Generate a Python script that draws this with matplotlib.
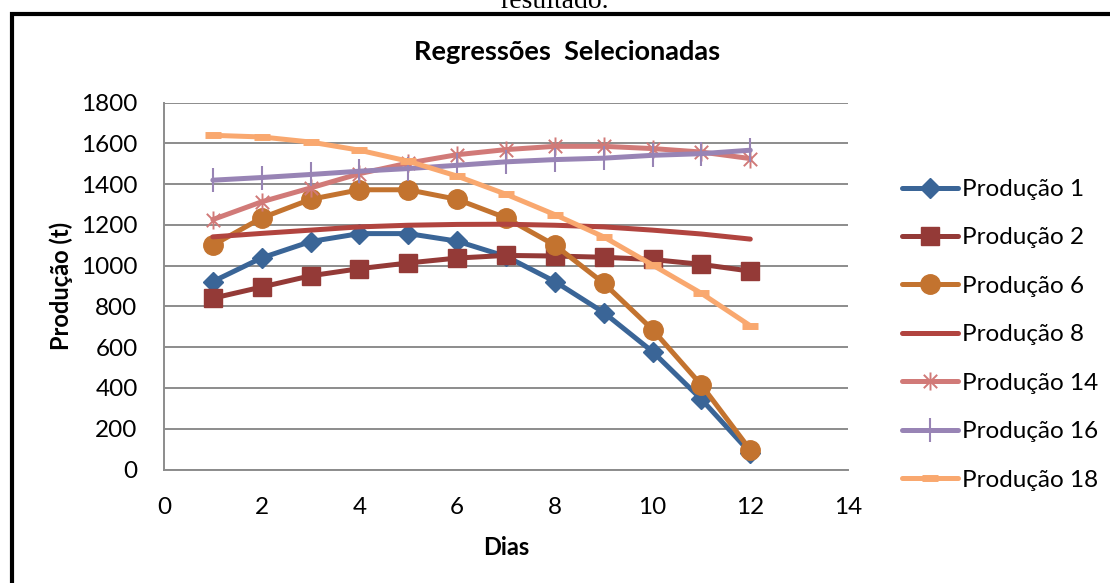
import matplotlib
matplotlib.use("Agg")
import matplotlib.pyplot as plt
from matplotlib.path import Path
from matplotlib.patches import Rectangle

plt.rcParams['font.family'] = ['Lato', 'DejaVu Sans']

dias = [1, 2, 3, 4, 5, 6, 7, 8, 9, 10, 11, 12]

producao_1 = [922, 1038, 1118, 1157, 1157, 1120, 1045, 922, 770, 578, 344, 82]
producao_2 = [840, 895, 950, 985, 1013, 1037, 1050, 1047, 1041, 1030, 1006, 973]
producao_6 = [1100, 1234, 1325, 1372, 1372, 1325, 1234, 1100, 914, 686, 414, 96]
producao_8 = [1141, 1158, 1174, 1190, 1198, 1202, 1203, 1198, 1190, 1174, 1155, 1130]
producao_14 = [1226, 1313, 1381, 1451, 1503, 1544, 1569, 1585, 1585, 1574, 1557, 1525]
producao_16 = [1419, 1432, 1447, 1463, 1476, 1492, 1509, 1520, 1527, 1541, 1549, 1566]
producao_18 = [1639, 1631, 1606, 1566, 1512, 1439, 1350, 1250, 1141, 1003, 864, 705]

labels = ['Produção 1', 'Produção 2', 'Produção 6', 'Produção 8',
          'Produção 14', 'Produção 16', 'Produção 18']

x_ticks = [0, 2, 4, 6, 8, 10, 12, 14]
y_ticks = [0, 200, 400, 600, 800, 1000, 1200, 1400, 1600, 1800]

# asterisk marker: an X crossed by a vertical stroke
asterisk = Path([(-1, -1), (1, 1), (-1, 1), (1, -1), (0, -1.35), (0, 1.35)],
                [Path.MOVETO, Path.LINETO, Path.MOVETO, Path.LINETO,
                 Path.MOVETO, Path.LINETO])

fig = plt.figure(figsize=(11.10, 5.83), dpi=100)
ax = fig.add_axes([164 / 1110, 1 - 469.5 / 583, (848 - 164) / 1110, (469.5 - 102.5) / 583])

lw = 3.6
series = [
    (producao_1, '#3A6597', dict(marker='D', markersize=10, markeredgewidth=1)),
    (producao_2, '#943A37', dict(marker='s', markersize=13, markeredgewidth=1)),
    (producao_6, '#C3732F', dict(marker='o', markersize=14, markeredgewidth=1)),
    (producao_8, '#B1443F', dict(marker=None)),
    (producao_14, '#D17A78', dict(marker=asterisk, markersize=13, markeredgewidth=1.4,
                                  markerfacecolor='none')),
    (producao_16, '#9884B5', dict(marker='|', markersize=17, markeredgewidth=1.5)),
    (producao_18, '#F9A86F', dict(marker='_', markersize=11, markeredgewidth=5)),
]

for (vals, color, mk), lab in zip(series, labels):
    ax.plot(dias, vals, color=color, linewidth=lw, label=lab,
            markerfacecolor=mk.pop('markerfacecolor', color),
            markeredgecolor=color, solid_capstyle='round', zorder=3, **mk)

ax.set_xlim(0, 14)
ax.set_ylim(0, 1800)
ax.set_xticks(x_ticks)
ax.set_yticks(y_ticks)
ax.tick_params(axis='both', length=0, labelsize=17.5)
ax.tick_params(axis='x', pad=20)
ax.tick_params(axis='y', pad=19)
ax.grid(axis='y', color='#8C8C8C', linewidth=1.4)
ax.set_axisbelow(True)
for side in ('top', 'right'):
    ax.spines[side].set_visible(False)
for side in ('left', 'bottom'):
    ax.spines[side].set_color('#8C8C8C')
    ax.spines[side].set_linewidth(1.4)

ax.set_xlabel('Dias', fontsize=17, fontweight='bold', labelpad=13)
ax.set_ylabel('Produção (t)', fontsize=17, fontweight='bold', labelpad=6)

fig.text(567 / 1110, 1 - 52 / 583, 'Regressões  Selecionadas', ha='center', va='center',
         fontsize=19.5, fontweight='bold')

leg = ax.legend(loc='upper left', bbox_to_anchor=(902 / 1110, 1 - 179 / 583),
                bbox_transform=fig.transFigure, frameon=False, fontsize=17.5,
                handlelength=2.3, handletextpad=0.15, labelspacing=1.13,
                borderaxespad=0, borderpad=0)

# outer frame of the chart
fig.patches.append(Rectangle((11.5 / 1110, -0.05), 1.2, 1 - 13.5 / 583 + 0.05,
                             transform=fig.transFigure, fill=False,
                             edgecolor='black', linewidth=3, zorder=0))

fig.text(555 / 1110, 1 - 8 / 583, 'resultado.', ha='center', va='baseline',
         fontsize=20, family='Liberation Serif')

fig.savefig('out.png', dpi=100)
